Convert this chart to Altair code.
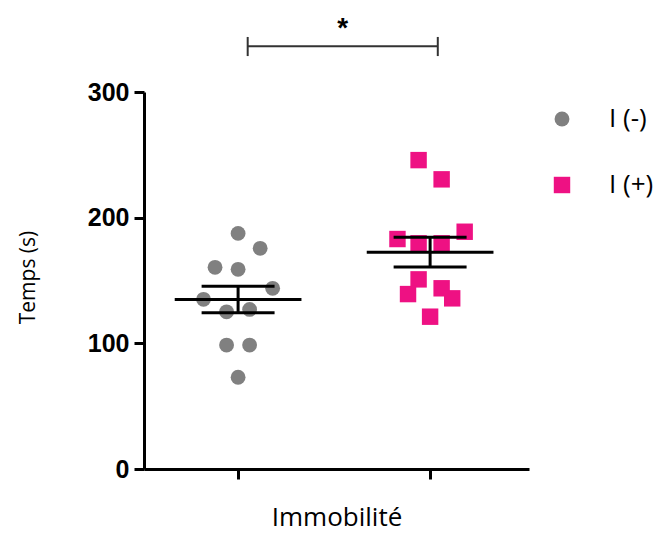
import altair as alt
import pandas as pd

# ---- data ----
groups = ["I (-)", "I (+)"]
group_pos = [1, 2]
neg_values = [187.5, 175.6, 160.5, 158.9, 143.8, 135.0, 125.1, 127.0, 98.6, 98.6, 73.0]
neg_jitter = [0, 0.115, -0.12, 0, 0.18, -0.18, -0.06, 0.06, -0.06, 0.06, 0]
pos_values = [245.8, 230.5, 183.0, 188.8, 179.6, 179.6, 150.9, 139.2, 143.8, 135.8, 121.2]
pos_jitter = [-0.06, 0.06, -0.17, 0.18, -0.06, 0.06, -0.06, -0.115, 0.06, 0.115, 0]
y_ticks = [0, 100, 200, 300]
sig_from = [1.05]
sig_to = [2.04]
sig_level = [336.5]
sig_low = [328.6]
sig_high = [343.8]
sig_text_level = [350.0]
sig_label = ["*"]

rows = []
for g, p, vals, jit in [(groups[0], group_pos[0], neg_values, neg_jitter),
                        (groups[1], group_pos[1], pos_values, pos_jitter)]:
    for v, j in zip(vals, jit):
        rows.append({"group": g, "pos": p, "x": p + j, "y": v})
df = pd.DataFrame(rows)

sig_df = pd.DataFrame({"x1": sig_from, "x2": sig_to, "y": sig_level,
                       "lo": sig_low, "hi": sig_high, "ty": sig_text_level,
                       "label": sig_label})
sig_df["xm"] = (sig_df["x1"] + sig_df["x2"]) / 2

XSCALE = alt.Scale(domain=[0.51, 2.515], nice=False, zero=False)
YSCALE = alt.Scale(domain=[0, 300], nice=False, zero=True)

XAXIS = alt.Axis(values=group_pos, labels=False, ticks=True, tickSize=10,
                 tickWidth=3, tickColor="black", domainWidth=3, domainColor="black",
                 grid=False, title="Immobilité", titleFont="Open Sans",
                 titleFontSize=26, titleFontWeight="normal", titleColor="black",
                 titleY=48, titleBaseline="middle")
YAXIS = alt.Axis(values=y_ticks, tickSize=10, tickWidth=3, tickColor="black",
                 domainWidth=3, domainColor="black", grid=False,
                 labelFont="Liberation Sans", labelFontWeight="bold",
                 labelFontSize=25, labelColor="black", labelPadding=5,
                 title="Temps (s)", titleFont="Open Sans", titleFontSize=21,
                 titleFontWeight="normal", titleColor="black",
                 titleX=-116, titleY=185, titleAlign="center",
                 titleBaseline="middle", titleAngle=270)


def X(field):
    return alt.X(field, scale=XSCALE, axis=XAXIS)


def Y(field):
    return alt.Y(field, scale=YSCALE, axis=YAXIS)


legend = alt.Legend(title=None, orient="none", legendX=405, legendY=14,
                    labelFont="Open Sans", labelFontSize=26, labelColor="black",
                    symbolSize=220, labelOffset=34, rowPadding=40,
                    symbolStrokeWidth=0)

points = alt.Chart(df).mark_point(filled=True, opacity=1).encode(
    x=X("x:Q"),
    y=Y("y:Q"),
    color=alt.Color("group:N", scale=alt.Scale(domain=groups, range=["#808080", "#EE1183"]), legend=legend),
    shape=alt.Shape("group:N", scale=alt.Scale(domain=groups, range=["circle", "square"]), legend=legend),
    size=alt.Size("group:N", scale=alt.Scale(domain=groups, range=[220, 270]), legend=None),
)

stats = alt.Chart(df).transform_aggregate(
    m="mean(y)", s="stderr(y)", groupby=["group", "pos"]
).transform_calculate(
    lo="datum.m - datum.s", hi="datum.m + datum.s",
    mx1="datum.pos - 0.33", mx2="datum.pos + 0.33",
    cx1="datum.pos - 0.19", cx2="datum.pos + 0.19",
)
mean_rule = stats.mark_rule(color="black", strokeWidth=3).encode(x=X("mx1:Q"), x2="mx2:Q", y=Y("m:Q"))
cap_hi = stats.mark_rule(color="black", strokeWidth=3).encode(x=X("cx1:Q"), x2="cx2:Q", y=Y("hi:Q"))
cap_lo = stats.mark_rule(color="black", strokeWidth=3).encode(x=X("cx1:Q"), x2="cx2:Q", y=Y("lo:Q"))
vline = stats.mark_rule(color="black", strokeWidth=3).encode(x=X("pos:Q"), y=Y("lo:Q"), y2="hi:Q")

sig = alt.Chart(sig_df)
sig_h = sig.mark_rule(color="#333333", strokeWidth=2).encode(x=X("x1:Q"), x2="x2:Q", y=Y("y:Q"))
sig_l = sig.mark_rule(color="#333333", strokeWidth=2).encode(x=X("x1:Q"), y=Y("lo:Q"), y2="hi:Q")
sig_r = sig.mark_rule(color="#333333", strokeWidth=2).encode(x=X("x2:Q"), y=Y("lo:Q"), y2="hi:Q")
sig_t = sig.mark_text(font="Liberation Sans", fontWeight="bold", fontSize=28,
                      color="black", baseline="middle").encode(x=X("xm:Q"), y=Y("ty:Q"), text="label:N")

chart = alt.layer(points, mean_rule, cap_hi, cap_lo, vline, sig_h, sig_l, sig_r, sig_t).properties(
    width=385, height=377,
    autosize=alt.AutoSizeParams(type="none"),
    padding={"left": 136, "top": 84, "right": 130, "bottom": 65},
    background="white",
).configure_view(stroke=None)

chart.save("out.html", embed_options={"renderer": "svg", "actions": False})
